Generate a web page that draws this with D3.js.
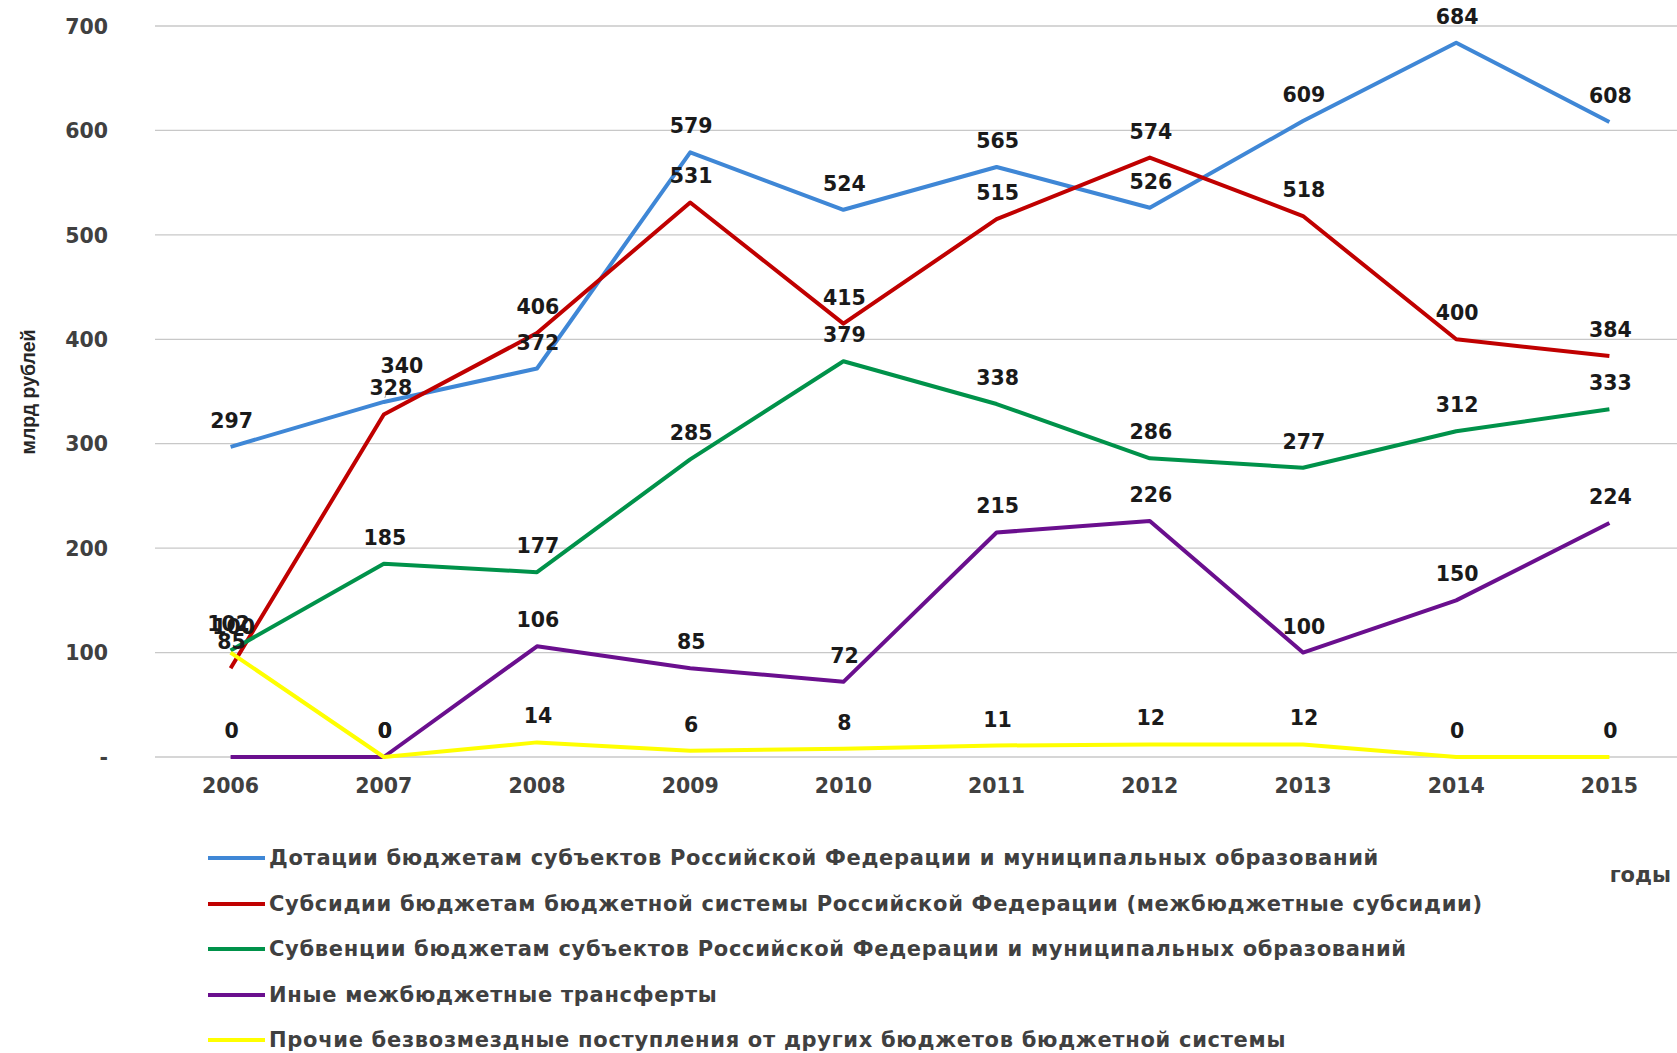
<!DOCTYPE html>
<html><head><meta charset="utf-8">
<script src="https://cdn.jsdelivr.net/npm/d3@7"></script>
<style>body{margin:0;background:#fff}svg{display:block}</style>
</head><body>
<svg id="c" width="1677" height="1053"></svg>
<script>
const years = ["2006","2007","2008","2009","2010","2011","2012","2013","2014","2015"];
const dotacii   = [297,340,372,579,524,565,526,609,684,608];
const subsidii  = [85,328,406,531,415,515,574,518,400,384];
const subvencii = [102,185,177,285,379,338,286,277,312,333];
const inye      = [0,0,106,85,72,215,226,100,150,224];
const prochie   = [100,0,14,6,8,11,12,12,0,0];
const yTicks = [0,100,200,300,400,500,600,700];
const seriesNames = [
 "Дотации бюджетам субъектов Российской Федерации и муниципальных образований",
 "Субсидии бюджетам бюджетной системы Российской Федерации (межбюджетные субсидии)",
 "Субвенции бюджетам субъектов Российской Федерации и муниципальных образований",
 "Иные межбюджетные трансферты",
 "Прочие безвозмездные поступления от других бюджетов бюджетной системы"
];
const seriesValues = [dotacii, subsidii, subvencii, inye, prochie];
const colors = ["#3f87d6","#c00000","#00924a","#6a0f8e","#ffff00"];

const svg = d3.select("#c");
const x = d3.scaleBand().domain(years).range([154,1686]);
const y = d3.scaleLinear().domain([0,700]).range([757,26]);
const cx = d => x(d) + x.bandwidth()/2;
const font = "'DejaVu Sans', Verdana, sans-serif";

// manually moved labels (series index, point index) -> pixel offsets
const labelShift = {"0-1":[17,-10,true], "1-1":[6,0,false], "2-0":[-3,0,false], "4-0":[2,0,false]};

// gridlines
svg.append("g").selectAll("line").data(yTicks).join("line")
  .attr("x1",155).attr("x2",1677).attr("y1",d=>y(d)).attr("y2",d=>y(d))
  .attr("stroke","#c8c8c8").attr("stroke-width",1.3);

// y axis labels
const yAxis = d3.axisLeft(y).tickValues(yTicks).tickSize(0).tickPadding(0)
  .tickFormat(d => d===0 ? "-" : d);
const gy = svg.append("g").attr("transform","translate(108,0)").call(yAxis);
gy.select(".domain").remove();
gy.selectAll("text").attr("font-family",font).attr("font-weight","bold")
  .attr("font-size",20.5).attr("fill","#404040").attr("dy","0.35em");

// x axis labels
const xAxis = d3.axisBottom(x).tickSize(0).tickPadding(0);
const gx = svg.append("g").attr("transform","translate(0,786)").call(xAxis);
gx.select(".domain").remove();
gx.selectAll("text").attr("font-family",font).attr("font-weight","bold")
  .attr("font-size",20.5).attr("fill","#404040").attr("dy","0.35em");

// lines
const line = d3.line().x((d,i)=>cx(years[i])).y(d=>y(d));
const order = [0,1,2,3,4];
order.forEach(k=>{
  svg.append("path").datum(seriesValues[k]).attr("d",line)
    .attr("fill","none").attr("stroke",colors[k]).attr("stroke-width",4)
    .attr("stroke-linejoin","round");
});

// data labels
order.forEach(k=>{
  const g = svg.append("g");
  seriesValues[k].forEach((d,i)=>{
    const s = labelShift[k+"-"+i] || [0,0,false];
    const px = cx(years[i]), py = y(d);
    if (s[2]) {
      g.append("line").attr("x1",px+1).attr("y1",py-4).attr("x2",px+4).attr("y2",py-12)
        .attr("stroke","#a6a6a6").attr("stroke-width",1);
    }
    g.append("text").attr("x",px+1+s[0]).attr("y",py-19+s[1])
      .attr("text-anchor","middle").attr("font-family",font).attr("font-weight","bold")
      .attr("font-size",20.5).attr("fill","#1a1a1a").text(d);
  });
});

// y axis title
svg.append("text").attr("transform","translate(35,392) rotate(-90)")
  .attr("text-anchor","middle").attr("font-family","'Liberation Sans', Arial, sans-serif")
  .attr("font-weight","bold").attr("font-size",19.5).attr("fill","#262626").text("млрд рублей");

// x axis title
svg.append("text").attr("x",1671).attr("y",875).attr("dy","0.35em").attr("text-anchor","end")
  .attr("font-family",font).attr("font-weight","bold").attr("font-size",21)
  .attr("fill","#404040").text("годы");

// legend
const legY = [858,904,949,995,1040];
const lg = svg.append("g");
seriesNames.forEach((n,k)=>{
  lg.append("line").attr("x1",208).attr("x2",265).attr("y1",legY[k]).attr("y2",legY[k])
    .attr("stroke",colors[k]).attr("stroke-width",4);
  lg.append("text").attr("x",269).attr("y",legY[k]).attr("dy","0.35em")
    .attr("font-family",font).attr("font-weight","bold").attr("font-size",21)
    .attr("letter-spacing","0.7px")
    .attr("fill","#404040").text(n);
});
</script>
</body></html>
